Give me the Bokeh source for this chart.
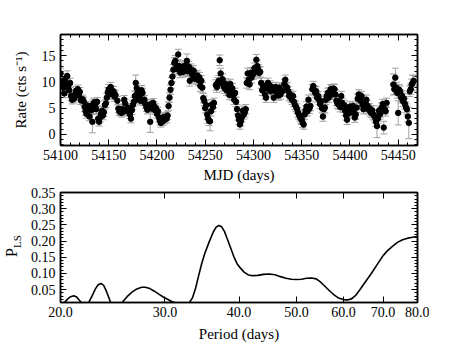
from bokeh.plotting import figure
from bokeh.models import (ColumnDataSource, Whisker, TeeHead, LinearAxis, LogAxis,
                          FixedTicker, SingleIntervalTicker, PrintfTickFormatter,
                          Range1d, Div)
from bokeh.layouts import column, row
from bokeh.embed import file_html
from bokeh.resources import INLINE

# ---------------- light curve data ----------------
mjd = [
    54100, 54101, 54102, 54103, 54104, 54105, 54106, 54107, 54108, 54109,
    54110, 54111, 54112, 54113, 54114, 54115, 54116, 54117, 54118, 54119,
    54120, 54121, 54123, 54124, 54125, 54126, 54127, 54128, 54129, 54130,
    54131, 54132, 54133, 54134, 54135, 54136, 54137, 54138, 54139, 54140,
    54141, 54142, 54143, 54144, 54145, 54146, 54147, 54148, 54149, 54150,
    54151, 54152, 54153, 54154, 54155, 54156, 54157, 54159, 54160, 54161,
    54162, 54163, 54164, 54165, 54166, 54167, 54168, 54169, 54170, 54171,
    54172, 54173, 54174, 54175, 54176, 54177, 54178, 54179, 54180, 54181,
    54182, 54183, 54184, 54185, 54186, 54187, 54188, 54189, 54190, 54191,
    54192, 54193, 54194, 54195, 54196, 54197, 54198, 54199, 54200, 54201,
    54202, 54203, 54204, 54205, 54206, 54207, 54208, 54209, 54210, 54211,
    54212, 54213, 54214, 54215, 54216, 54217, 54218, 54219, 54220, 54221,
    54222, 54223, 54224, 54225, 54226, 54227, 54228, 54229, 54230, 54231,
    54232, 54233, 54234, 54235, 54236, 54237, 54238, 54239, 54240, 54241,
    54242, 54243, 54244, 54245, 54246, 54247, 54248, 54249, 54250, 54251,
    54252, 54253, 54254, 54255, 54256, 54257, 54258, 54259, 54261, 54262,
    54263, 54264, 54265, 54266, 54267, 54268, 54269, 54270, 54271, 54272,
    54273, 54274, 54275, 54276, 54277, 54278, 54279, 54280, 54281, 54282,
    54283, 54284, 54285, 54286, 54287, 54288, 54289, 54290, 54291, 54292,
    54293, 54294, 54295, 54296, 54297, 54298, 54299, 54300, 54301, 54302,
    54303, 54304, 54305, 54306, 54307, 54308, 54309, 54310, 54311, 54312,
    54313, 54314, 54315, 54316, 54317, 54318, 54319, 54320, 54321, 54322,
    54323, 54324, 54325, 54326, 54327, 54328, 54330, 54332, 54333, 54334,
    54335, 54336, 54337, 54338, 54339, 54340, 54341, 54342, 54343, 54344,
    54345, 54346, 54347, 54348, 54349, 54350, 54351, 54352, 54353, 54354,
    54355, 54356, 54357, 54358, 54359, 54361, 54362, 54363, 54364, 54365,
    54366, 54367, 54368, 54369, 54370, 54371, 54372, 54373, 54374, 54375,
    54376, 54377, 54378, 54379, 54380, 54381, 54382, 54383, 54384, 54385,
    54386, 54387, 54388, 54389, 54390, 54391, 54392, 54393, 54394, 54395,
    54396, 54397, 54398, 54399, 54400, 54401, 54402, 54403, 54404, 54405,
    54406, 54407, 54408, 54409, 54410, 54411, 54412, 54413, 54414, 54415,
    54416, 54417, 54418, 54419, 54420, 54421, 54422, 54423, 54424, 54425,
    54426, 54427, 54428, 54429, 54430, 54431, 54432, 54433, 54434, 54435,
    54436, 54437, 54438, 54445, 54446, 54447, 54448, 54449, 54450, 54451,
    54452, 54453, 54454, 54455, 54456, 54457, 54458, 54459, 54460, 54461,
    54462, 54463, 54464, 54465, 54466,
]
rate = [
    11.6, 10.1, 9.3, 8.9, 7.8, 10.6, 9.6, 11.1, 9.1, 8.4,
    9.8, 7.3, 6.6, 7.1, 6.8, 7.6, 8.3, 7.8, 8.6, 7.4,
    8.1, 6.5, 6.7, 6.3, 5.2, 4.4, 3.9, 5.5, 4.8, 3.4,
    5.1, 4.6, 2.4, 5.8, 6.1, 5.3, 4.8, 6.2, 3.0, 2.4,
    3.2, 3.9, 4.5, 3.6, 4.2, 5.6, 5.9, 7.0, 8.0, 8.6,
    7.7, 9.0, 8.3, 7.6, 8.2, 7.2, 7.5, 6.4, 4.9, 4.4,
    4.6, 4.1, 4.8, 4.3, 6.6, 5.9, 4.7, 4.5, 5.1, 4.4,
    3.8, 3.0, 4.6, 5.6, 6.2, 7.3, 9.8, 8.8, 8.0, 6.6,
    7.2, 6.4, 8.4, 7.9, 6.3, 6.6, 5.8, 5.2, 4.7, 5.5,
    5.0, 2.4, 5.8, 4.9, 6.0, 5.4, 4.6, 5.0, 3.9, 4.4,
    3.2, 2.6, 2.2, 3.0, 2.5, 3.3, 2.8, 3.4, 3.0, 3.6,
    5.4, 7.0, 8.5, 9.8, 11.0, 12.3, 13.6, 14.0, 12.5, 13.0,
    15.2, 13.0, 11.8, 12.2, 12.8, 11.9, 12.5, 13.1, 12.2, 14.0,
    12.0, 12.9, 10.2, 12.4, 11.7, 11.2, 12.1, 10.6, 11.0, 10.6,
    11.2, 10.3, 10.8, 9.2, 10.2, 8.9, 6.9, 6.4, 5.0, 5.6,
    3.8, 3.0, 2.6, 2.5, 4.4, 5.7, 5.2, 6.0, 9.4, 9.0,
    9.8, 10.2, 14.1, 11.6, 9.8, 10.5, 9.2, 8.8, 9.6, 8.4,
    9.3, 8.6, 7.5, 9.6, 7.9, 8.8, 7.4, 6.6, 7.9, 6.2,
    4.8, 3.6, 2.8, 1.9, 2.5, 3.3, 4.5, 3.8, 4.2, 4.8,
    9.8, 11.6, 10.4, 9.5, 11.7, 10.8, 11.7, 11.5, 12.6, 12.0,
    14.2, 13.0, 12.3, 11.7, 11.9, 9.8, 8.4, 9.2, 8.9, 7.6,
    7.0, 8.8, 9.8, 8.6, 9.3, 8.2, 9.0, 8.6, 7.0, 8.4,
    9.0, 8.0, 8.6, 7.4, 8.9, 7.6, 8.2, 9.6, 10.4, 9.0,
    8.9, 8.2, 7.3, 7.6, 7.0, 6.6, 7.3, 6.2, 5.6, 5.3,
    4.9, 4.2, 3.8, 3.4, 3.0, 2.8, 2.2, 1.9, 3.8, 4.6,
    5.3, 4.4, 6.6, 4.9, 5.4, 8.6, 9.2, 8.4, 7.9, 8.2,
    7.0, 7.3, 6.6, 5.8, 6.3, 5.0, 3.4, 4.8, 5.1, 6.6,
    7.3, 7.9, 7.0, 8.0, 8.6, 8.4, 7.6, 8.7, 8.6, 7.6,
    6.4, 5.9, 5.7, 6.2, 5.2, 7.3, 6.0, 5.1, 5.6, 4.5,
    3.6, 2.8, 4.8, 4.0, 5.3, 4.6, 4.5, 5.4, 4.2, 3.2,
    3.8, 5.1, 6.8, 7.6, 7.0, 6.4, 7.3, 5.6, 4.8, 5.2,
    6.0, 6.6, 5.5, 4.8, 5.0, 4.4, 4.1, 4.6, 3.8, 3.6,
    3.2, 2.4, 1.6, 3.0, 4.5, 3.8, 4.2, 5.1, 5.8, 1.3,
    4.8, 4.4, 6.0, 9.5, 8.6, 10.8, 8.9, 7.9, 4.1, 8.5,
    8.2, 7.0, 7.3, 6.3, 6.8, 5.8, 5.2, 4.8, 3.4, 2.2,
    8.2, 8.6, 9.5, 9.8, 10.2,
]
rate_err = [
    1.0, 1.0, 0.9, 0.9, 0.8, 1.0, 0.9, 1.0, 0.9, 0.9,
    0.9, 0.8, 0.8, 0.8, 0.8, 0.8, 0.8, 0.8, 0.8, 0.8,
    0.8, 0.8, 0.8, 0.8, 0.8, 0.8, 0.8, 0.8, 0.8, 0.8,
    0.8, 0.8, 2.1, 0.8, 0.8, 0.8, 0.8, 0.8, 0.8, 0.8,
    0.8, 0.8, 0.8, 0.8, 0.8, 0.8, 0.8, 0.8, 0.9, 0.9,
    0.9, 0.9, 0.9, 0.9, 0.9, 0.9, 0.9, 0.8, 0.8, 0.8,
    0.8, 0.8, 0.8, 0.8, 0.8, 0.8, 0.8, 0.8, 0.8, 0.8,
    0.8, 0.8, 0.8, 0.8, 0.8, 0.9, 1.5, 0.9, 0.9, 0.8,
    0.8, 0.8, 0.9, 0.9, 0.8, 0.8, 0.8, 0.8, 0.8, 0.8,
    0.8, 2.0, 0.8, 0.8, 0.8, 0.8, 0.8, 0.8, 0.8, 0.8,
    0.8, 0.8, 0.8, 0.8, 0.8, 0.8, 0.8, 0.8, 0.8, 0.8,
    0.8, 0.9, 0.9, 1.0, 1.0, 1.0, 1.0, 1.0, 1.0, 1.0,
    1.0, 1.0, 1.0, 1.0, 1.0, 1.0, 1.0, 1.0, 1.0, 1.3,
    1.0, 1.0, 1.0, 1.0, 1.0, 1.0, 1.0, 1.0, 1.0, 1.0,
    1.0, 1.0, 1.0, 1.0, 1.0, 1.0, 0.9, 0.9, 0.9, 0.9,
    0.9, 0.9, 0.9, 1.8, 0.9, 0.9, 0.9, 0.9, 1.0, 1.0,
    1.0, 1.0, 1.0, 1.0, 1.0, 1.0, 1.0, 1.0, 1.0, 1.0,
    1.0, 1.0, 0.9, 0.9, 0.9, 0.9, 0.9, 0.9, 0.9, 0.9,
    0.9, 0.9, 0.9, 0.9, 0.9, 0.9, 0.9, 0.9, 0.9, 0.9,
    1.0, 1.0, 1.0, 1.0, 1.0, 1.0, 1.0, 1.0, 1.0, 1.0,
    1.0, 1.0, 1.0, 1.0, 1.0, 1.0, 1.0, 1.0, 0.9, 0.9,
    0.9, 0.9, 0.9, 0.9, 0.9, 0.9, 0.9, 0.9, 0.9, 0.9,
    0.9, 0.9, 0.9, 0.9, 0.9, 0.9, 0.9, 0.9, 0.9, 0.9,
    0.9, 0.9, 0.9, 0.9, 0.9, 0.9, 0.9, 0.9, 0.9, 0.9,
    0.9, 0.9, 0.9, 0.9, 0.9, 0.9, 0.9, 0.9, 0.9, 0.9,
    0.9, 0.9, 0.9, 0.9, 0.9, 0.9, 0.9, 0.9, 0.9, 0.9,
    0.9, 0.9, 0.9, 0.9, 0.9, 0.9, 0.9, 0.9, 0.9, 0.9,
    0.9, 0.9, 0.9, 0.9, 0.9, 0.9, 0.9, 0.9, 0.9, 0.9,
    0.9, 0.9, 0.9, 0.9, 0.9, 0.9, 0.9, 0.9, 0.9, 0.9,
    0.9, 0.9, 0.9, 0.9, 0.9, 0.9, 0.9, 0.9, 0.9, 0.9,
    0.9, 0.9, 0.9, 0.9, 0.9, 0.9, 0.9, 0.9, 0.9, 0.9,
    0.9, 0.9, 0.9, 0.9, 0.9, 0.9, 0.9, 0.9, 0.9, 0.9,
    0.9, 0.9, 2.2, 0.9, 0.9, 0.9, 0.9, 0.9, 0.9, 1.2,
    0.9, 0.9, 0.9, 2.0, 1.0, 1.8, 1.0, 1.0, 2.3, 1.0,
    1.0, 1.0, 1.0, 1.0, 1.0, 1.0, 1.0, 1.0, 1.0, 3.0,
    1.0, 1.0, 1.0, 1.5, 1.0,
]

# ---------------- periodogram data ----------------
period = [
    20.0, 20.3, 20.6, 20.8, 21.06, 21.3, 21.5, 21.7, 22.0, 22.3,
    22.6, 22.9, 23.15, 23.4, 23.65, 23.9, 24.1, 24.3, 24.7, 25.0,
    25.4, 25.9, 26.4, 26.9, 27.4, 27.8, 28.3, 28.8, 29.3, 29.8,
    30.3, 30.8, 31.2, 31.8, 32.4, 32.9, 33.4, 33.8, 34.2, 34.6,
    35.0, 35.6, 36.2, 36.6, 37.0, 37.4, 37.8, 38.2, 38.7, 39.2,
    39.7, 40.2, 40.8, 41.4, 42.1, 43.0, 44.0, 45.0, 46.0, 47.0,
    48.0, 49.0, 50.0, 51.0, 52.0, 53.0, 54.0, 55.0, 56.0, 57.0,
    58.0, 59.0, 60.0, 61.0, 62.0, 63.0, 64.0, 65.0, 66.0, 67.0,
    68.0, 69.0, 70.0, 71.0, 72.5, 74.0, 75.5, 77.0, 78.5, 80.0,
]
power = [
    0.002, 0.010, 0.022, 0.028, 0.031, 0.027, 0.018, 0.009, 0.001, 0.009,
    0.030, 0.052, 0.065, 0.069, 0.063, 0.045, 0.028, 0.010, 0.000, 0.000,
    0.010, 0.028, 0.042, 0.052, 0.057, 0.057, 0.053, 0.045, 0.036, 0.027,
    0.020, 0.013, 0.009, 0.003, 0.000, 0.006, 0.025, 0.055, 0.093, 0.130,
    0.160, 0.196, 0.228, 0.243, 0.248, 0.244, 0.230, 0.208, 0.180, 0.152,
    0.130, 0.117, 0.104, 0.096, 0.093, 0.094, 0.097, 0.098, 0.096, 0.090,
    0.085, 0.082, 0.081, 0.082, 0.085, 0.086, 0.083, 0.072, 0.058, 0.044,
    0.032, 0.023, 0.019, 0.018, 0.022, 0.033, 0.050, 0.068, 0.085, 0.102,
    0.120, 0.138, 0.155, 0.168, 0.183, 0.196, 0.204, 0.209, 0.212, 0.214,
]

mjd_ticks_interval = 50
rate_ticks_interval = 5
period_ticks = [20, 30, 40, 50, 60, 70, 80]
power_ticks_interval = 0.05

FONT = "Liberation Serif"
TICK_FS = "14px"
LABEL_FS = "15px"


def style_axis(ax, show_labels=True):
    ax.major_tick_in = 6
    ax.major_tick_out = 0
    ax.minor_tick_in = 3
    ax.minor_tick_out = 0
    ax.axis_line_color = "black"
    ax.axis_line_width = 1.5
    ax.major_tick_line_color = "black"
    ax.minor_tick_line_color = "black"
    ax.major_label_text_font = FONT
    ax.major_label_text_font_size = TICK_FS
    ax.major_label_text_color = "black" if show_labels else None
    ax.major_label_standoff = 5
    ax.axis_label_text_font = FONT
    ax.axis_label_text_font_style = "normal"
    ax.axis_label_text_font_size = LABEL_FS
    ax.axis_label_text_color = "black"


# ---------------- top panel ----------------
p1 = figure(width=429, height=187,
            x_range=Range1d(54100, 54470), y_range=Range1d(-2.1, 19.0),
            output_backend="svg", toolbar_location=None,
            min_border_left=60, min_border_right=12,
            min_border_top=34, min_border_bottom=42)
p1.outline_line_color = "black"
p1.outline_line_width = 1.5
p1.xgrid.visible = False
p1.ygrid.visible = False

xt1 = SingleIntervalTicker(interval=mjd_ticks_interval, num_minor_ticks=5)
yt1 = SingleIntervalTicker(interval=rate_ticks_interval, num_minor_ticks=5)
p1.xaxis.ticker = xt1
p1.yaxis.ticker = yt1
for ax in p1.xaxis + p1.yaxis:
    style_axis(ax)
p1.xaxis.axis_label = "MJD (days)"
p1.yaxis.axis_label = "Rate (cts s\u207b\u00b9)"
p1.xaxis.major_label_standoff = 4
p1.xaxis.axis_label_standoff = 4
p1.yaxis.axis_label_standoff = 10

ax_r1 = LinearAxis(ticker=yt1)
style_axis(ax_r1, show_labels=False)
p1.add_layout(ax_r1, "right")
ax_t1 = LinearAxis(ticker=xt1)
style_axis(ax_t1, show_labels=False)
p1.add_layout(ax_t1, "above")

src = ColumnDataSource(dict(
    x=mjd, y=rate,
    upper=[r + e for r, e in zip(rate, rate_err)],
    lower=[r - e for r, e in zip(rate, rate_err)],
))
wh = Whisker(source=src, base="x", upper="upper", lower="lower",
             dimension="height", line_color="#a0a0a0", line_width=1,
             upper_head=TeeHead(size=7, line_color="#a0a0a0", line_width=1),
             lower_head=TeeHead(size=7, line_color="#a0a0a0", line_width=1))
wh.level = "underlay"
p1.add_layout(wh)
p1.scatter("x", "y", source=src, size=5.5, color="black")

# ---------------- bottom panel ----------------
LABEL_W = 24
P2_H = 159
p2 = figure(width=429 - LABEL_W, height=P2_H, x_axis_type="log",
            x_range=Range1d(20, 80), y_range=Range1d(0.01, 0.3502),
            output_backend="svg", toolbar_location=None,
            min_border_left=60 - LABEL_W, min_border_right=12,
            min_border_top=5, min_border_bottom=44)
p2.outline_line_color = "black"
p2.outline_line_width = 1.5
p2.xgrid.visible = False
p2.ygrid.visible = False

xt2 = FixedTicker(ticks=period_ticks, minor_ticks=[])
yt2 = SingleIntervalTicker(interval=power_ticks_interval, num_minor_ticks=5)
p2.xaxis.ticker = xt2
p2.xaxis.formatter = PrintfTickFormatter(format="%.1f")
p2.yaxis.ticker = yt2
p2.yaxis.formatter = PrintfTickFormatter(format="%.2f")
for ax in p2.xaxis + p2.yaxis:
    style_axis(ax)
p2.xaxis.axis_label = "Period (days)"
p2.xaxis.major_label_standoff = 4
p2.xaxis.axis_label_standoff = 6

ax_r2 = LinearAxis(ticker=yt2)
style_axis(ax_r2, show_labels=False)
p2.add_layout(ax_r2, "right")
ax_t2 = LogAxis(ticker=FixedTicker(ticks=period_ticks, minor_ticks=[]))
style_axis(ax_t2, show_labels=False)
p2.add_layout(ax_t2, "above")

p2.line(period, power, line_color="black", line_width=1.6)

# y-axis label P_LS (rotated, with subscript)
ylab_html = (
    '<div style="position:absolute; left:-4px; top:49px; width:32px; height:20px; '
    'line-height:20px; text-align:center; transform:rotate(-90deg); '
    'font-family:\'Liberation Serif\', serif; font-size:16px; color:black; '
    'white-space:nowrap;">P<sub style="font-size:11px; line-height:0;">LS</sub></div>'
)
ylab = Div(text=ylab_html, width=LABEL_W, height=P2_H, margin=0,
           styles={"overflow": "visible", "position": "relative"})

layout = column(p1, row(ylab, p2, spacing=0), spacing=0)
open("out.html", "w").write(file_html(layout, INLINE))
